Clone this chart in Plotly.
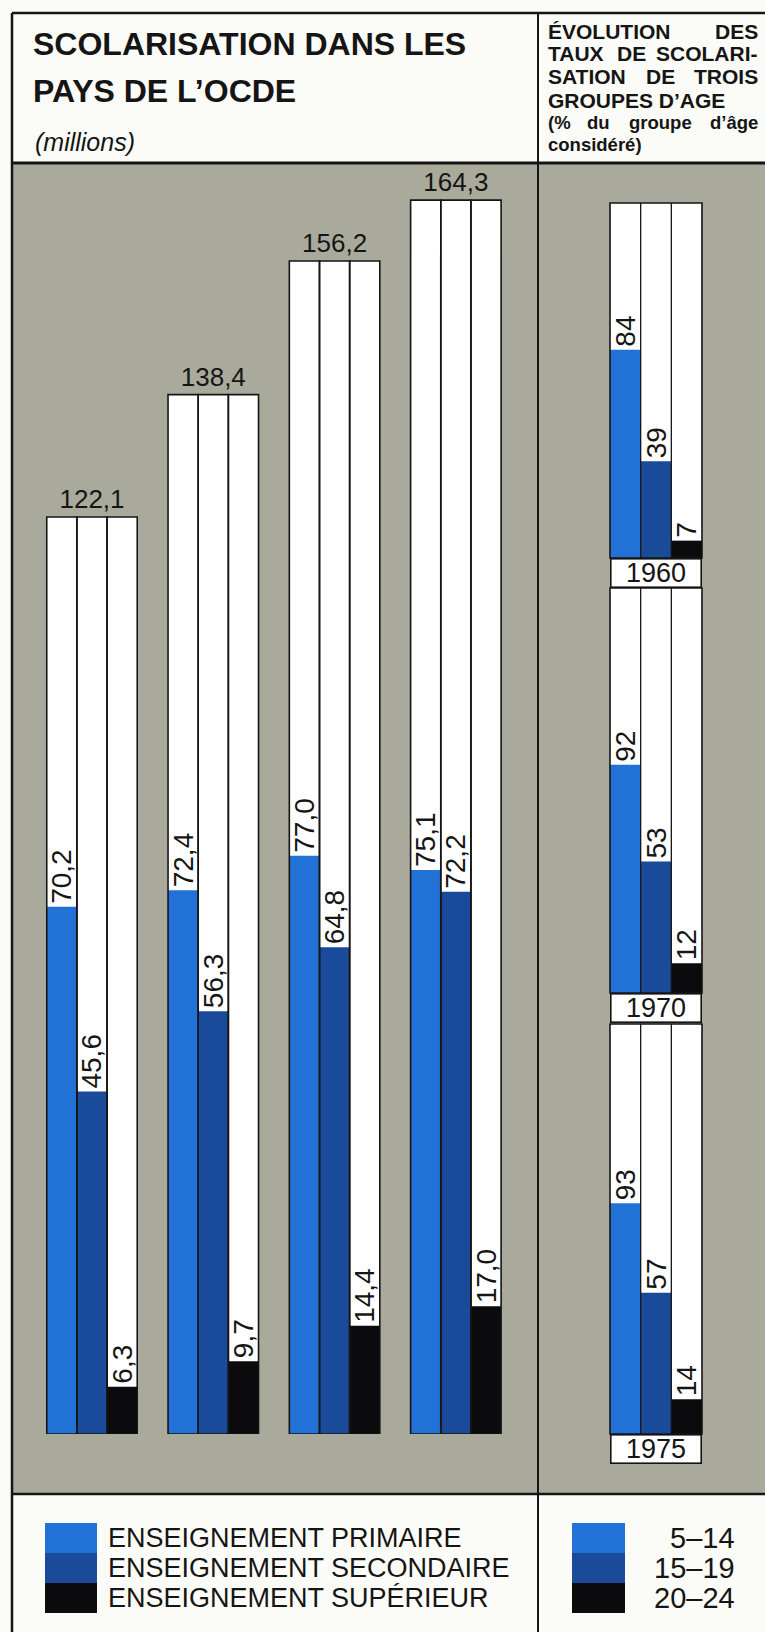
import plotly.graph_objects as go

W, H = 765, 1632

# ---------------- data ----------------
years = ["1960", "1965", "1970", "1975"]
totals = [122.1, 138.4, 156.2, 164.3]
primaire = [70.2, 72.4, 77.0, 75.1]
secondaire = [45.6, 56.3, 64.8, 72.2]
superieur = [6.3, 9.7, 14.4, 17.0]

rate_years = ["1960", "1970", "1975"]
age_groups = ["5–14", "15–19", "20–24"]
rate_5_14 = [84, 92, 93]
rate_15_19 = [39, 53, 57]
rate_20_24 = [7, 12, 14]

series_names = ["ENSEIGNEMENT PRIMAIRE", "ENSEIGNEMENT SECONDAIRE", "ENSEIGNEMENT SUPÉRIEUR"]

# ---------------- style ----------------
C1, C2, C3 = "#2271d6", "#1a4b9b", "#0b0b0d"
COLORS = [C1, C2, C3]
GRAY = "#a9aa9b"
PAPER = "#fbfbf7"
INK = "#151515"
FONT = "Liberation Sans"
LABEL_SIZE = 28


def fx(p):
    return p / W


def fy(p):
    return 1 - p / H


def fmt(v):
    return f"{v:.1f}".replace(".", ",")


fig = go.Figure()

# ---------------- left chart ----------------
LEFT_BASE, LEFT_TOP = 1434, 163
PX_PER_M = 7.51
groups = ["a", "b", "c"]
common = dict(cliponaxis=False, constraintext="none", hoverinfo="skip", showlegend=False)

for g in groups:
    fig.add_trace(go.Bar(
        x=years, y=totals, offsetgroup=g,
        marker=dict(color="white", line=dict(width=0)),
        text=[fmt(t) for t in totals] if g == "b" else None,
        textposition="outside", textangle=0,
        outsidetextfont=dict(size=26, color=INK, family=FONT),
        **common))

for g, vals, col in zip(groups, [primaire, secondaire, superieur], COLORS):
    fig.add_trace(go.Bar(
        x=years, y=vals, offsetgroup=g,
        marker=dict(color=col, line=dict(width=0)),
        text=[fmt(v) for v in vals], textposition="outside", textangle=-90,
        outsidetextfont=dict(size=LABEL_SIZE, color=INK, family=FONT),
        **common))

for g in groups:
    fig.add_trace(go.Bar(
        x=years, y=totals, offsetgroup=g,
        marker=dict(color="rgba(0,0,0,0)", line=dict(color=INK, width=1.6)),
        **common))

# ---------------- right panel ----------------
PX_PER_PCT = 2.48
frames = [(203, 558), (588, 993), (1024, 1434)]  # top, baseline (px)
RX0, RX1 = 610, 702
rates_by_group = [rate_5_14, rate_15_19, rate_20_24]

shapes = []
annotations = []
axes = {}

for i, yr in enumerate(rate_years):
    k = i + 2
    vals = [rates_by_group[j][i] for j in range(len(age_groups))]
    fig.add_trace(go.Bar(
        x=age_groups, y=vals, width=1,
        marker=dict(color=COLORS, line=dict(width=0)),
        text=[str(v) for v in vals], textposition="outside", textangle=-90,
        outsidetextfont=dict(size=LABEL_SIZE, color=INK, family=FONT),
        xaxis=f"x{k}", yaxis=f"y{k}", **common))
    top, base = frames[i]
    axes[f"xaxis{k}"] = dict(domain=[fx(RX0), fx(RX1)], anchor=f"y{k}", type="category",
                             range=[-0.5, len(age_groups) - 0.5], visible=False, fixedrange=True)
    axes[f"yaxis{k}"] = dict(domain=[fy(base), fy(top)], anchor=f"x{k}",
                             range=[0, (base - top) / PX_PER_PCT], visible=False, fixedrange=True)
    shapes.append(dict(type="rect", xref=f"x{k} domain", yref=f"y{k} domain", x0=0, x1=1, y0=0, y1=1,
                       fillcolor="white", line=dict(width=0), layer="below"))
    shapes.append(dict(type="rect", xref=f"x{k} domain", yref=f"y{k} domain", x0=0, x1=1, y0=0, y1=1,
                       fillcolor="rgba(0,0,0,0)", line=dict(color=INK, width=1.6), layer="above"))
    for j in range(1, len(age_groups)):
        shapes.append(dict(type="line", xref=f"x{k}", yref=f"y{k} domain", x0=j - 0.5, x1=j - 0.5,
                           y0=0, y1=1, line=dict(color=INK, width=1.3), layer="above"))
    annotations.append(dict(xref=f"x{k} domain", yref=f"y{k} domain", x=0.5, y=0, xanchor="center",
                            yanchor="top", text=yr, showarrow=False, width=RX1 - RX0 - 3, height=27,
                            bgcolor="white", bordercolor=INK, borderwidth=1.6, borderpad=0,
                            font=dict(size=27, color=INK, family=FONT)))

for yr in years:
    annotations.append(dict(xref="x", yref="y", x=yr, y=0, xanchor="center", yanchor="top",
                            text=yr, showarrow=False, width=88, height=27, bgcolor="white",
                            bordercolor=INK, borderwidth=1.6, borderpad=0,
                            font=dict(size=27, color=INK, family=FONT)))

# ---------------- frame / background ----------------
LEG_LINE = 1494
shapes.insert(0, dict(type="rect", xref="paper", yref="paper", x0=fx(12), x1=fx(765), y0=fy(LEG_LINE),
                      y1=fy(163), fillcolor=GRAY, line=dict(width=0), layer="below"))
for (x0, y0, x1, y1, w) in [(12, 13, 765, 13, 2.5), (12, 13, 12, 1632, 2.5), (12, 163, 765, 163, 3),
                            (12, LEG_LINE, 765, LEG_LINE, 2.5), (538, 13, 538, 1632, 2)]:
    shapes.append(dict(type="line", xref="paper", yref="paper", x0=fx(x0), x1=fx(x1), y0=fy(y0), y1=fy(y1),
                       line=dict(color=INK, width=w), layer="above"))


def txt(text, x, y, size, xanchor="left", bold=False, italic=False):
    t = text
    if bold:
        t = f"<b>{t}</b>"
    if italic:
        t = f"<i>{t}</i>"
    annotations.append(dict(xref="paper", yref="paper", x=fx(x), y=fy(y), xanchor=xanchor, yanchor="middle",
                            text=t, showarrow=False, font=dict(size=size, color=INK, family=FONT)))


# header left
txt("SCOLARISATION DANS LES", 31, 44, 32, bold=True)
txt("PAYS DE L’OCDE", 31, 91, 32, bold=True)
txt("(millions)", 33, 142, 25, italic=True)

# header right (justified lines)
HL, HR = 546, 760
txt("ÉVOLUTION", HL, 31, 21, bold=True)
txt("DES", HR, 31, 21, "right", bold=True)
txt("TAUX", HL, 54, 21, bold=True)
txt("DE", 631, 54, 21, "center", bold=True)
txt("SCOLARI-", HR, 54, 21, "right", bold=True)
txt("SATION", HL, 77, 21, bold=True)
txt("DE", 660, 77, 21, "center", bold=True)
txt("TROIS", HR, 77, 21, "right", bold=True)
txt("GROUPES D’AGE", HL, 100, 21, bold=True)
txt("(%", HL, 123, 18.5, bold=True)
txt("du", 598, 123, 18.5, "center", bold=True)
txt("groupe", 660, 123, 18.5, "center", bold=True)
txt("d’âge", HR, 123, 18.5, "right", bold=True)
txt("considéré)", HL, 144, 18.5, bold=True)

# legends
LEG_ROWS = [(1523, 1553), (1553, 1583), (1583, 1613)]
for (r0, r1), col, name, ag in zip(LEG_ROWS, COLORS, series_names, age_groups):
    shapes.append(dict(type="rect", xref="paper", yref="paper", x0=fx(45), x1=fx(97), y0=fy(r1), y1=fy(r0),
                       fillcolor=col, line=dict(width=0)))
    shapes.append(dict(type="rect", xref="paper", yref="paper", x0=fx(572), x1=fx(625), y0=fy(r1), y1=fy(r0),
                       fillcolor=col, line=dict(width=0)))
    txt(name, 106, (r0 + r1) / 2, 27)
    txt(ag, 737, (r0 + r1) / 2, 29, "right")

fig.update_layout(
    width=W, height=H, margin=dict(l=0, r=0, t=0, b=0),
    paper_bgcolor=PAPER, plot_bgcolor="rgba(0,0,0,0)",
    barmode="group", bargap=0.254, bargroupgap=0,
    hovermode=False, showlegend=False,
    font=dict(family=FONT, color=INK),
    xaxis=dict(domain=[fx(31.35), fx(516.5)], anchor="y", type="category", range=[-0.5, len(years) - 0.5],
               visible=False, fixedrange=True),
    yaxis=dict(domain=[fy(LEFT_BASE), fy(LEFT_TOP)], anchor="x", range=[0, (LEFT_BASE - LEFT_TOP) / PX_PER_M],
               visible=False, fixedrange=True),
    shapes=shapes, annotations=annotations,
    **axes,
)

fig.write_html("out.html", config={"displayModeBar": False})
